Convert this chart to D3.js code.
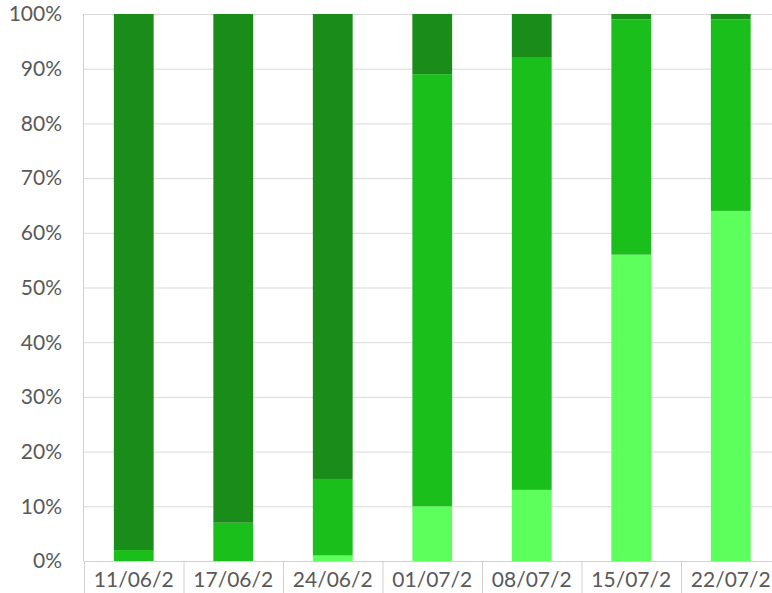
<!DOCTYPE html>
<html><head><meta charset="utf-8">
<script src="https://cdn.jsdelivr.net/npm/d3@7"></script>
<style>html,body{margin:0;padding:0;background:#fff;overflow:hidden}</style>
</head><body>
<svg id="c" width="772" height="593"></svg>
<script>
const categories = ["11/06/2","17/06/2","24/06/2","01/07/2","08/07/2","15/07/2","22/07/2"];
const seriesLight = [0, 0, 1, 10, 13, 56, 64];
const seriesMid   = [2, 7, 14, 79, 79, 43, 35];
const seriesDark  = [98, 93, 85, 11, 8, 1, 1];
const yTicks = [0,10,20,30,40,50,60,70,80,90,100];
const seriesNames = ["light","mid","dark"];
const colors = {light:"#5cff5c", mid:"#1bbf1b", dark:"#1a8c1a"};

const table = categories.map((c,i)=>({cat:c, light:seriesLight[i], mid:seriesMid[i], dark:seriesDark[i]}));
const stack = d3.stack().keys(seriesNames)(table);

const svg = d3.select("#c");
const mLeft = 84, mRight = 780.5, mTop = 14, mBottom = 561;
const x = d3.scaleBand().domain(categories).range([mLeft,mRight]).paddingInner(0.6).paddingOuter(0.3);
const xb = d3.scaleBand().domain(categories).range([mLeft,mRight]);
const y = d3.scaleLinear().domain([0,100]).range([mBottom,mTop]);

// gridlines
svg.append("g").selectAll("line").data(yTicks).join("line")
  .attr("x1",mLeft).attr("x2",772).attr("y1",d=>y(d)+0.5).attr("y2",d=>y(d)+0.5)
  .attr("stroke","#d9d9d9").attr("stroke-width",1);
// left axis line
svg.append("line").attr("x1",mLeft-0.5).attr("x2",mLeft-0.5).attr("y1",mTop).attr("y2",mBottom)
  .attr("stroke","#d0d0d0");

// bars
svg.append("g").selectAll("g").data(stack).join("g")
  .attr("fill",d=>colors[d.key])
  .selectAll("rect").data(d=>d).join("rect")
  .attr("x",d=>x(d.data.cat)).attr("width",x.bandwidth())
  .attr("y",d=>y(d[1])).attr("height",d=>y(d[0])-y(d[1]));

// y labels
svg.append("g").selectAll("text").data(yTicks).join("text")
  .attr("x",62).attr("y",d=>y(d)).attr("dy","0.35em").attr("text-anchor","end")
  .attr("font-family","Lato, 'Open Sans', sans-serif").attr("font-size",21).attr("fill","#595959")
  .text(d=>d+"%");

// x axis
svg.append("line").attr("x1",mLeft).attr("x2",772).attr("y1",mBottom+0.5).attr("y2",mBottom+0.5).attr("stroke","#d0d0d0");
svg.append("g").selectAll("line").data(categories.concat(["_end"])).join("line")
  .attr("x1",(d,i)=>mLeft + i*xb.bandwidth()+0.5).attr("x2",(d,i)=>mLeft + i*xb.bandwidth()+0.5)
  .attr("y1",mBottom).attr("y2",593).attr("stroke","#d0d0d0");
svg.append("g").selectAll("text").data(categories).join("text")
  .attr("x",d=>xb(d)+xb.bandwidth()/2).attr("y",580).attr("dy","0.35em").attr("text-anchor","middle")
  .attr("font-family","Lato, 'Open Sans', sans-serif").attr("font-size",21).attr("fill","#595959")
  .text(d=>d);
</script>
</body></html>
